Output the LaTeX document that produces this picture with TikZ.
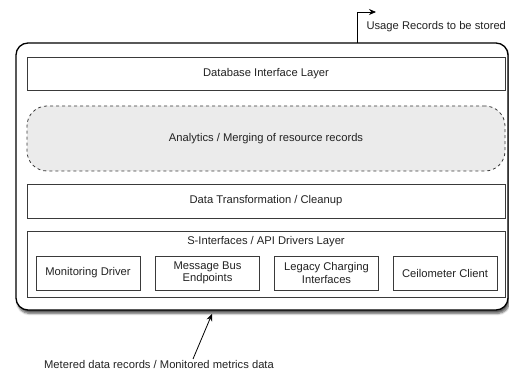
\documentclass[tikz,border=0pt]{standalone}
\usepackage{fontspec}
\setmainfont{Liberation Sans}
\usetikzlibrary{arrows.meta,shadows.blur}
\definecolor{inkgray}{HTML}{222222}
\definecolor{boxline}{HTML}{3A3A3A}
\definecolor{cloudfill}{HTML}{EBEBEB}
\tikzset{
  lbl/.style={font=\fontsize{11.2}{12.5}\selectfont, text=inkgray},
  frame/.style={draw=black, line width=1.3pt, fill=white, rounded corners=12pt,
    blur shadow={shadow xshift=1.5pt, shadow yshift=-3.5pt, shadow blur steps=6, shadow opacity=65}},
  layer/.style={draw=boxline, line width=0.9pt, fill=white, inner sep=0pt, outer sep=0pt,
    minimum width=478pt, lbl},
  cloud/.style={draw=boxline, dashed, line width=0.8pt, fill=cloudfill, rounded corners=20pt,
    inner sep=0pt, outer sep=0pt, minimum width=478pt, minimum height=65pt, lbl},
  driver/.style={draw=boxline, line width=0.9pt, fill=white, inner sep=0pt, outer sep=0pt,
    minimum width=104pt, minimum height=34pt, align=center, lbl},
  flow/.style={draw=black, line width=0.8pt, -{Stealth[length=7pt,width=6pt]}}
}
\begin{document}
\begin{tikzpicture}[x=1pt,y=-1pt]
  \useasboundingbox (0,0) rectangle (509,371);
  % outer container
  \node[frame, inner sep=0pt, outer sep=0pt, minimum width=492pt, minimum height=267pt] (outer) at (262,176.5) {};
  % stacked layers
  \node[layer, minimum height=33pt] (db) at (266,73.5) {Database Interface Layer};
  \node[cloud] (analytics) at (266,138.5) {Analytics / Merging of resource records};
  \node[layer, minimum height=34pt] (transform) at (266,201) {Data Transformation / Cleanup};
  \node[layer, minimum height=66pt] (drivers) at (266,264) {};
  \node[lbl] (driverstitle) at (266,242) {S-Interfaces / API Drivers Layer};
  % individual drivers
  \node[driver] (monitor) at (88,273) {Monitoring Driver};
  \node[driver] (msgbus) at (207.5,273) {Message Bus\\Endpoints};
  \node[driver] (legacy) at (326.5,273) {Legacy Charging\\Interfaces};
  \node[driver] (ceilo) at (445,273) {Ceilometer Client};
  % outgoing records
  \coordinate (outtop) at (357,43);
  \coordinate (outbend) at (357,12);
  \coordinate (outend) at (376,12);
  \draw[flow] (outtop) -- (outbend) -- (outend);
  \node[lbl, anchor=west] (usage) at (363,27) {Usage Records to be stored};
  % incoming data
  \node[lbl] (metered) at (159,364) {Metered data records / Monitored metrics data};
  \coordinate (intail) at (193,359);
  \coordinate (inhead) at (212,314);
  \draw[flow] (intail) -- (inhead);
\end{tikzpicture}
\end{document}
